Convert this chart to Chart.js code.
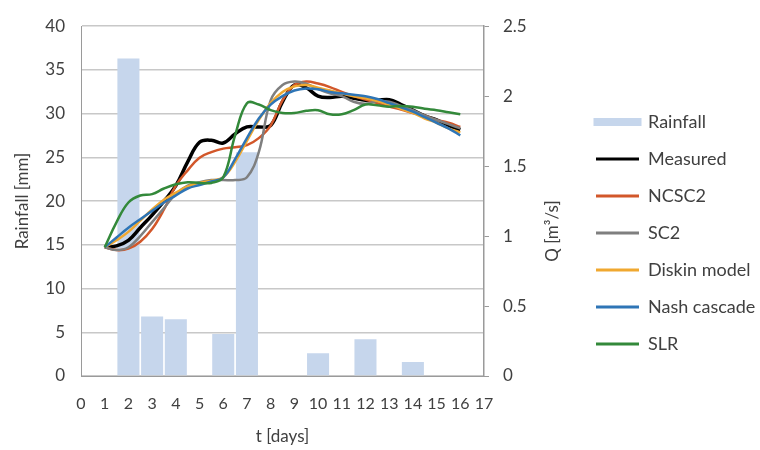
<!DOCTYPE html>
<html>
<head>
<meta charset="utf-8">
<script src="https://cdn.jsdelivr.net/npm/chart.js@4"></script>
<style>
  html, body { margin: 0; padding: 0; background: #fff; }
  #wrap { width: 760px; height: 450px; position: relative; }
</style>
</head>
<body>
<div id="wrap"><canvas id="chart"></canvas></div>
<script>
// rainfall bars (mm), left axis
const rainDays = [2, 3, 4, 6, 7, 10, 12, 14];
const rainfall = [36.3, 6.8, 6.5, 4.8, 25.6, 2.6, 4.2, 1.6];

// discharge Q (m3/s), right axis, read every half day
const t = [1, 1.5, 2, 2.5, 3, 3.5, 4, 4.5, 5, 5.5, 6, 6.5, 7, 7.5, 8, 8.5,
           9, 9.5, 10, 10.5, 11, 11.5, 12, 12.5, 13, 13.5, 14, 14.5, 15, 15.5, 16];
const measured = [0.92, 0.93, 0.97, 1.06, 1.15, 1.25, 1.36, 1.53, 1.67, 1.685, 1.665, 1.73, 1.78, 1.78, 1.79, 1.96,
                  2.08, 2.06, 2.00, 1.99, 2.00, 1.985, 1.97, 1.97, 1.975, 1.94, 1.90, 1.86, 1.83, 1.79, 1.76];
const ncsc2 = [0.92, 0.90, 0.91, 0.96, 1.05, 1.19, 1.36, 1.47, 1.56, 1.60, 1.625, 1.635, 1.65, 1.70, 1.79, 1.97,
               2.08, 2.105, 2.09, 2.065, 2.03, 2.00, 1.975, 1.95, 1.925, 1.905, 1.88, 1.86, 1.83, 1.81, 1.78];
const sc2 = [0.92, 0.90, 0.92, 1.00, 1.10, 1.20, 1.30, 1.36, 1.385, 1.40, 1.40, 1.40, 1.42, 1.60, 1.97, 2.08,
             2.105, 2.09, 2.05, 2.02, 2.00, 1.96, 1.945, 1.965, 1.96, 1.93, 1.90, 1.86, 1.83, 1.80, 1.77];
const diskin = [0.92, 0.97, 1.03, 1.11, 1.19, 1.26, 1.31, 1.355, 1.38, 1.395, 1.42, 1.53, 1.68, 1.83, 1.95, 2.03,
                2.07, 2.08, 2.06, 2.04, 2.02, 2.00, 1.985, 1.965, 1.94, 1.91, 1.88, 1.84, 1.81, 1.77, 1.74];
const nash = [0.92, 0.99, 1.06, 1.12, 1.18, 1.24, 1.29, 1.34, 1.365, 1.39, 1.42, 1.55, 1.70, 1.84, 1.94, 2.00,
              2.04, 2.055, 2.05, 2.03, 2.02, 2.01, 2.00, 1.98, 1.95, 1.92, 1.89, 1.85, 1.81, 1.77, 1.72];
const slr = [0.92, 1.10, 1.24, 1.29, 1.30, 1.34, 1.37, 1.385, 1.38, 1.38, 1.42, 1.72, 1.95, 1.94, 1.90, 1.88,
             1.88, 1.895, 1.90, 1.87, 1.87, 1.90, 1.94, 1.935, 1.925, 1.93, 1.925, 1.91, 1.90, 1.885, 1.87];

const FONT = 'Lato, "Liberation Sans", sans-serif';
const TEXT = '#404040';
const GRID = '#c8c8c8';
const AXIS = '#9a9a9a';

function lineSet(label, values, color, width, order) {
  return {
    type: 'line', label, order, yAxisID: 'y1',
    data: t.map((x, i) => ({ x, y: values[i] })),
    borderColor: color, backgroundColor: color,
    borderWidth: width, pointRadius: 0, tension: 0.4, fill: false,
  };
}

// right axis title reads bottom-to-top, so draw it ourselves
const qTitle = {
  id: 'qTitle',
  afterDraw(chart) {
    const { ctx, chartArea } = chart;
    ctx.save();
    ctx.translate(chartArea.right + 69, (chartArea.top + chartArea.bottom) / 2 + 30);
    ctx.rotate(-Math.PI / 2);
    ctx.font = '17px ' + FONT;
    ctx.fillStyle = TEXT;
    ctx.textAlign = 'center';
    ctx.textBaseline = 'middle';
    ctx.fillText('Q [m³/s]', 0, 0);
    ctx.restore();
  },
};

const ctx = document.getElementById('chart').getContext('2d');
new Chart(ctx, {
  type: 'bar',
  data: {
    datasets: [
      {
        type: 'bar', label: 'Rainfall', order: 10, yAxisID: 'y',
        data: rainDays.map((x, i) => ({ x, y: rainfall[i] })),
        backgroundColor: '#c6d6ec', barPercentage: 0.93, categoryPercentage: 1,
      },
      lineSet('Measured', measured, '#000000', 3.5, 5),
      lineSet('NCSC2', ncsc2, '#d2572a', 2.5, 4),
      lineSet('SC2', sc2, '#7f7f7f', 2.5, 3),
      lineSet('Diskin model', diskin, '#f0a830', 2.5, 2),
      lineSet('Nash cascade', nash, '#2e75b6', 2.5, 1),
      lineSet('SLR', slr, '#33893a', 2.5, 0),
    ],
  },
  options: {
    responsive: true,
    maintainAspectRatio: false,
    animation: false,
    layout: { padding: { top: 16, left: 0, right: 0, bottom: 0 } },
    scales: {
      x: {
        type: 'linear', min: 0, max: 17, offset: false,
        ticks: { stepSize: 1, color: TEXT, font: { family: FONT, size: 16 }, padding: 18, maxRotation: 0, autoSkip: false },
        grid: { display: false, drawTicks: false },
        border: { color: AXIS },
        title: { display: true, text: 't [days]', color: TEXT, font: { family: FONT, size: 17 }, padding: { top: 0, bottom: 3 } },
        afterFit: (s) => { s.height = 74; },
      },
      y: {
        position: 'left', min: 0, max: 40,
        ticks: { stepSize: 5, color: TEXT, font: { family: FONT, size: 17 }, padding: 16 },
        grid: { color: GRID, lineWidth: 1.5, drawTicks: false },
        border: { color: AXIS },
        title: { display: true, text: 'Rainfall [mm]', color: TEXT, font: { family: FONT, size: 17 }, padding: { top: 12, bottom: 0 } },
        afterFit: (s) => { s.width = 81; },
      },
      y1: {
        position: 'right', min: 0, max: 2.5,
        ticks: {
          stepSize: 0.5, color: TEXT, font: { family: FONT, size: 17 }, padding: 14,
          callback: (v) => String(Number(v.toFixed(1))),
        },
        grid: { drawOnChartArea: false, drawTicks: true, tickLength: 5, color: AXIS },
        border: { color: AXIS, width: 1.5 },
        afterFit: (s) => { s.width = 93; },
      },
    },
    plugins: {
      tooltip: { enabled: false },
      legend: {
        position: 'right',
        maxWidth: 183,
        labels: {
          color: TEXT,
          font: { family: FONT, size: 18 },
          boxWidth: 43, boxHeight: 3, padding: 19,
          generateLabels: (chart) => chart.data.datasets.map((ds, i) => ({
            text: ds.label,
            fillStyle: ds.type === 'bar' ? ds.backgroundColor : ds.borderColor,
            strokeStyle: ds.type === 'bar' ? ds.backgroundColor : ds.borderColor,
            lineWidth: ds.type === 'bar' ? 5 : 0,
            fontColor: TEXT,
            hidden: false,
            datasetIndex: i,
          })),
        },
      },
    },
  },
  plugins: [qTitle],
});
</script>
</body>
</html>
